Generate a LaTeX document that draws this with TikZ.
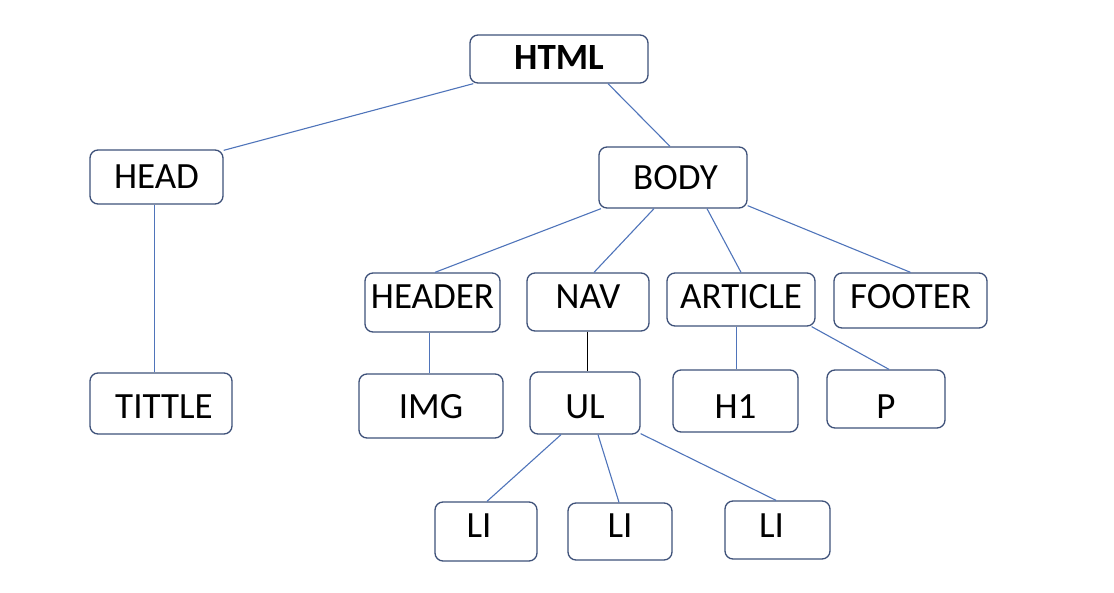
\documentclass[tikz,border=0pt]{standalone}
\usepackage{fontspec}
\setmainfont{Carlito}
\usetikzlibrary{positioning}
\definecolor{boxline}{HTML}{3E5179}
\definecolor{linkline}{HTML}{4F74BA}
\newcommand{\tagline}[2]{\raisebox{#1}[0pt][0pt]{#2}}

\begin{document}
\begin{tikzpicture}[x=0.5pt,y=-0.5pt,
	tag/.style={draw=boxline,line width=0.65pt,rounded corners=4pt,inner sep=0pt,font=\fontsize{18.5}{21}\selectfont},
	link/.style={draw=linkline,line width=0.55pt}]
		\useasboundingbox (0,0) rectangle (1114,593);
		% tree of tags
		\node[tag,font=\fontsize{18.5}{21}\selectfont\bfseries,minimum width=89pt,minimum height=24pt] (html) at (559,59) {\tagline{-5.5pt}{HTML}};
		\node[tag,minimum width=66.5pt,minimum height=27pt] (head) at (156.5,177) {\tagline{-6pt}{HEAD}};
		\node[tag,minimum width=74pt,minimum height=30.5pt] (body) at (673,177.5) {\tagline{-6pt}{\hspace{2.5pt}BODY}};
		\node[tag,minimum width=71pt,minimum height=30.5pt] (tittle) at (161,403.5) {\tagline{-7.25pt}{\hspace{3pt}TITTLE}};
		\node[tag,minimum width=67.5pt,minimum height=29.5pt] (header) at (432.5,302.5) {\tagline{-3.25pt}{HEADER}};
		\node[tag,minimum width=61pt,minimum height=29pt] (nav) at (588,302) {\tagline{-3.5pt}{NAV}};
		\node[tag,minimum width=74pt,minimum height=26.5pt] (article) at (741,299.5) {\tagline{-4.75pt}{ARTICLE}};
		\node[tag,minimum width=76.5pt,minimum height=27.5pt] (footer) at (910.5,300.5) {\tagline{-4.25pt}{FOOTER}};
		\node[tag,minimum width=72pt,minimum height=32pt] (img) at (431,406) {\tagline{-6pt}{IMG}};
		\node[tag,minimum width=55pt,minimum height=31pt] (ul) at (585,403) {\tagline{-7.5pt}{UL}};
		\node[tag,minimum width=62.5pt,minimum height=31pt] (h1) at (735.5,401) {\tagline{-8.5pt}{H1}};
		\node[tag,minimum width=59pt,minimum height=29pt] (p) at (886,399) {\tagline{-9.5pt}{P}};
		\node[tag,minimum width=51pt,minimum height=29.5pt] (li1) at (486,531.5) {\tagline{-2.75pt}{LI\hspace{7pt}}};
		\node[tag,minimum width=52pt,minimum height=28.5pt] (li2) at (620,531.5) {\tagline{-2.75pt}{LI}};
		\node[tag,minimum width=52.5pt,minimum height=29pt] (li3) at (777.5,530) {\tagline{-3.5pt}{LI\hspace{6pt}}};
		% connectors
		\path[link]
			([xshift=2pt]html.south west) edge ([yshift=-0.5pt]head.north east)
			([xshift=24.5pt]html.south) edge ([xshift=-1.5pt]body.north)
			([xshift=-1pt]head.south) edge ([xshift=-1pt]head.south |- tittle.north)
			([xshift=-36pt]body.south) edge ([xshift=1.25pt]header.north)
			([xshift=-9.5pt]body.south) edge ([xshift=3pt]nav.north)
			([xshift=17pt]body.south) edge (article.north)
			([yshift=1.5pt]body.south east) edge (footer.north)
			([xshift=-1.5pt]header.south) edge ([xshift=-1.5pt]header.south |- img.north)
			([xshift=-2.25pt]article.south) edge ([xshift=-2.25pt]article.south |- h1.north)
			([xshift=-2pt]article.south east) edge ([xshift=1.5pt]p.north)
			([xshift=-12pt]ul.south) edge ([xshift=0.5pt]li1.north)
			([xshift=6.5pt]ul.south) edge ([xshift=-0.5pt]li2.north)
			([yshift=0.5pt]ul.south east) edge ([xshift=-0.75pt]li3.north);
		\draw[line width=0.55pt] ([xshift=-0.25pt]nav.south) -- ([xshift=-0.25pt]nav.south |- ul.north);
	\end{tikzpicture}
\end{document}
